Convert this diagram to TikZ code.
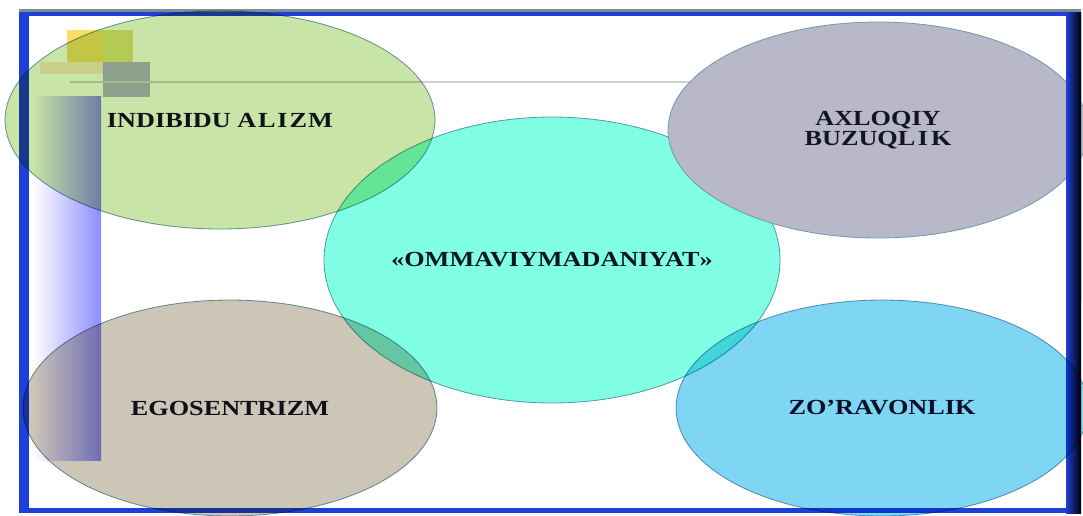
\documentclass[tikz,border=0pt]{standalone}
\usepackage{fontspec}
\setmainfont{Liberation Serif}
\usepackage{graphicx}
\usetikzlibrary{shapes.geometric}

\definecolor{framebl}{HTML}{1E3FD8}
\definecolor{edgegray}{HTML}{7E8A96}
\definecolor{stripebl}{HTML}{8C8CFF}
\definecolor{bubbleedge}{HTML}{6C9AAE}
\definecolor{txtcol}{HTML}{141428}
\definecolor{greenfill}{HTML}{C8E4A6}
\definecolor{grayfill}{HTML}{B9B8C8}
\definecolor{cyanfill}{HTML}{80FFE5}
\definecolor{tanfill}{HTML}{CCC6B6}
\definecolor{bluefill}{HTML}{7FD5F4}

\newcommand{\wide}[1]{\scalebox{1.22}[1]{#1}}

\begin{document}
\begin{tikzpicture}[x=1pt,y=-1pt,line join=round,
  bubble/.style={ellipse,draw=bubbleedge,line width=0.8pt,inner sep=0pt,outer sep=0pt,
    text=txtcol,font=\fontsize{21.5}{20}\selectfont\bfseries,align=center}]
  \useasboundingbox (0,0) rectangle (1083,515);
  \coordinate (Cmass) at (552,260);
  \coordinate (Cind) at (220,120);
  \coordinate (Cmor) at (878,130);
  \coordinate (Cego) at (230,408);
  \coordinate (Cvio) at (882,408);
  % frame
  \fill[framebl] (19,9) rectangle (1081,513);
  \fill[white] (29,16) rectangle (1066,508);
  \fill[edgegray] (19,9) rectangle (1081,12);
  \shade[left color=framebl,right color=black] (1066,12) rectangle (1081,513);
  % smudges
  \shade[left color=white,right color=stripebl] (33,96) rectangle (101,460);
  \fill[orange!50,opacity=0.35] (40,62) rectangle (103,74);
  \fill[yellow!60!orange,opacity=0.6] (67,30) rectangle (103,62);
  \fill[yellow!60!olive,opacity=0.5] (103,30) rectangle (133,62);
  \fill[blue!30!gray,opacity=0.45] (103,62) rectangle (150,97);
  \draw[gray!35,line width=2pt] (70,82) -- (1062,82);
  % bubbles
  \begin{scope}[blend mode=multiply]
    \node[bubble,minimum width=456pt,minimum height=286pt,fill=cyanfill] (mass) at (Cmass) {\wide{«OMMAVIYMADANIYAT»}};
    \node[bubble,minimum width=430pt,minimum height=218pt,fill=greenfill] (ind) at (Cind) {\wide{INDIBIDU A\kern1.5pt L\kern1.5pt I\kern1.5pt Z\kern1pt M}};
    \node[bubble,minimum width=414pt,minimum height=216pt,fill=tanfill] (ego) at (Cego) {\wide{EGOSENTRIZM}};
    \node[bubble,minimum width=412pt,minimum height=216pt,fill=bluefill] (vio) at (Cvio) {\wide{ZO’RAVONLIK}};
  \end{scope}
  \node[bubble,minimum width=420pt,minimum height=216pt,fill=grayfill] (mor) at (Cmor) {\wide{AXLOQIY}\\\wide{BUZUQL\kern2pt I\kern2.5pt K}};
  \shade[left color=framebl,right color=black] (1066,12) rectangle (1081,300);
\end{tikzpicture}
\end{document}
